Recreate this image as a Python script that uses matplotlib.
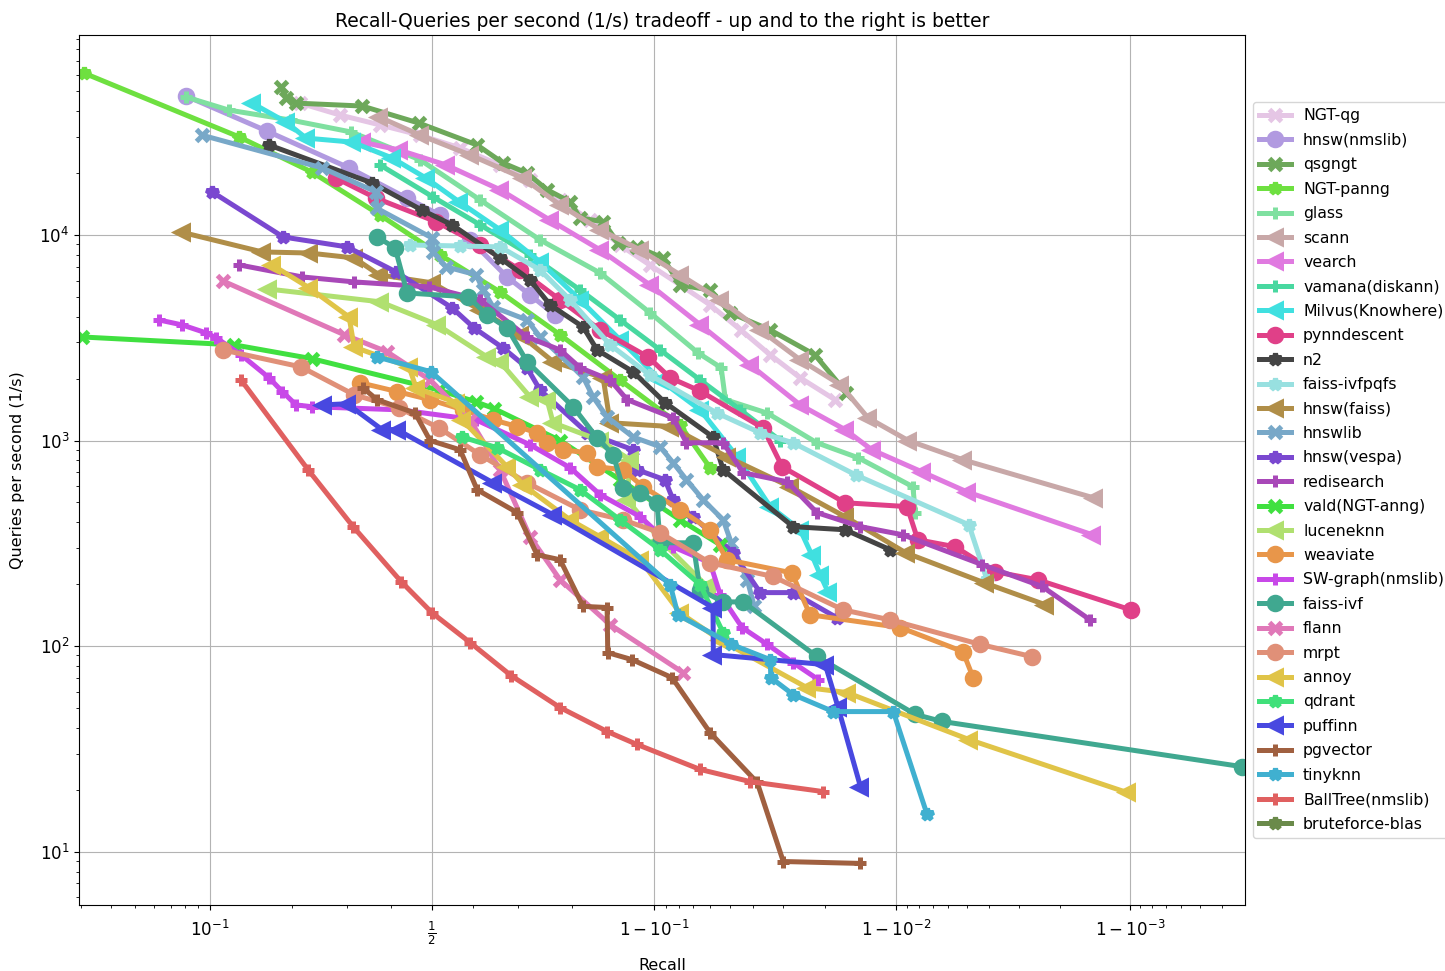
import matplotlib
matplotlib.use("Agg")
import matplotlib.pyplot as plt

# recall / queries-per-second, one pair of lists per algorithm
ngt_qg_recall = [0.213, 0.287, 0.374, 0.470, 0.569, 0.662, 0.725, 0.780, 0.827, 0.865, 0.896, 0.921, 0.940, 0.955, 0.966, 0.9745, 0.9818]
ngt_qg_qps = [43800, 38300, 34300, 30600, 26500, 21900, 18500, 14800, 11800, 8940, 7150, 5710, 4570, 3450, 2610, 2020, 1580]

hnsw_nmslib_recall = [0.0805, 0.1634, 0.3054, 0.4384, 0.5198, 0.593, 0.6775, 0.725, 0.7715]
hnsw_nmslib_qps = [47400, 32000, 21200, 15100, 12500, 9460, 6250, 5110, 4080]

qsgngt_recall = [0.1832, 0.1906, 0.2065, 0.3334, 0.4678, 0.6096, 0.6687, 0.719, 0.7573, 0.7968, 0.8123,
                 0.8446, 0.8630, 0.8838, 0.9077, 0.9209, 0.940, 0.9503, 0.966, 0.9779, 0.9837]
qsgngt_qps = [52400, 46400, 43800, 42400, 35000, 27400, 22400, 20000, 16600, 14500, 12100,
              11600, 9150, 8750, 7730, 5710, 5400, 4180, 3450, 2610, 1710]

ngt_panng_recall = [0.0309, 0.1289, 0.2336, 0.374, 0.5198, 0.6622, 0.7802, 0.8654, 0.9209, 0.940]
ngt_panng_qps = [61300, 30000, 20200, 12500, 8000, 5280, 3270, 1970, 1190, 737]

glass_recall = [0.0805, 0.118, 0.1984, 0.3096, 0.4703, 0.6166, 0.7444, 0.8407, 0.8964, 0.9329, 0.9459,
                0.948, 0.965, 0.9783, 0.9855, 0.9915, 0.9917]
glass_qps = [46900, 40500, 36200, 31700, 23200, 14800, 9460, 6530, 4180, 2670, 2260,
             1580, 1360, 975, 824, 596, 446]

scann_recall = [0.3717, 0.4703, 0.593, 0.711, 0.7802, 0.8407, 0.8869, 0.9209, 0.9454, 0.9626, 0.9745,
                0.9827, 0.9868, 0.9911, 0.9948, 0.99857]
scann_qps = [37500, 30600, 24500, 18900, 14000, 10600, 8460, 6400, 4830, 3450, 2470,
             1870, 1290, 1000, 806, 526]

vearch_recall = [0.3334, 0.419, 0.5346, 0.6622, 0.7628, 0.8407, 0.8964, 0.9342, 0.9589, 0.9745, 0.9835,
                 0.9873, 0.9922, 0.995, 0.99855]
vearch_qps = [28300, 25900, 21900, 16600, 11800, 8460, 5710, 3660, 2330, 1490, 1130,
              901, 705, 563, 348]

vamana_recall = [0.374, 0.5025, 0.6166, 0.7251, 0.8123, 0.8654, 0.9052, 0.9342, 0.9548, 0.9691]
vamana_qps = [21900, 15300, 11200, 8000, 5400, 3860, 2760, 1970, 1410, 1000]

milvus_recall = [0.1441, 0.1906, 0.2232, 0.3118, 0.4022, 0.4852, 0.5665, 0.6622, 0.7444, 0.8123, 0.8654,
                 0.9052, 0.9342, 0.9535, 0.966, 0.9745, 0.9772, 0.979, 0.9805]
milvus_qps = [43800, 35400, 29600, 28300, 23700, 18900, 14500, 10600, 7400, 4830, 3090,
              1970, 1410, 833, 477, 368, 278, 222, 184]

pynndescent_recall = [0.2787, 0.3649, 0.5099, 0.6166, 0.705, 0.7802, 0.8407, 0.8946, 0.9134, 0.9342,
                      0.9636, 0.9697, 0.9835, 0.991, 0.9919, 0.9944, 0.9962, 0.99752, 0.99901]
pynndescent_qps = [18900, 15100, 11600, 8940, 6760, 4830, 3450, 2550, 2020, 1740,
                   1150, 745, 498, 477, 329, 304, 230, 210, 150]

n2_recall = [0.166, 0.3558, 0.4752, 0.5493, 0.6622, 0.7251, 0.7628, 0.8167, 0.8366, 0.8797, 0.9093,
             0.9416, 0.9469, 0.9727, 0.9835, 0.9894]
n2_qps = [27400, 17900, 13200, 11200, 7730, 6040, 4570, 3570, 2760, 2160, 1530,
          1040, 721, 381, 368, 294]

ivfpqfs_recall = [0.4457, 0.5689, 0.6622, 0.7444, 0.7968, 0.8535, 0.8964, 0.9438, 0.9626, 0.9727,
                  0.9851, 0.9951, 0.9959]
ivfpqfs_qps = [8940, 8840, 8750, 6760, 4830, 2920, 2080, 1360, 1090, 975, 681, 389, 210]

hnsw_faiss_recall = [0.0777, 0.1567, 0.2282, 0.3161, 0.3717, 0.5, 0.6166, 0.705, 0.7681, 0.8446, 0.8535,
                     0.9134, 0.9488, 0.9719, 0.9835, 0.9909, 0.9958, 0.99769]
hnsw_faiss_qps = [10300, 8270, 8170, 7730, 6400, 5850, 4320, 3270, 2420, 2020, 1220,
                  1170, 833, 596, 426, 284, 203, 159]

hnswlib_recall = [0.0929, 0.2518, 0.3649, 0.366, 0.5, 0.502, 0.5346, 0.6072, 0.6236, 0.6464, 0.719,
                  0.7444, 0.8167, 0.8311, 0.8497, 0.8797, 0.9052, 0.9157, 0.9254, 0.936, 0.9469,
                  0.9508, 0.9577, 0.9604]
hnswlib_qps = [30600, 21200, 16200, 13500, 9670, 8270, 7000, 6400, 5400, 4470, 3860,
               3190, 2040, 1630, 1300, 1040, 933, 780, 644, 515, 411,
               318, 210, 156]

vespa_recall = [0.1018, 0.1862, 0.3012, 0.4118, 0.5493, 0.6025, 0.6687, 0.719, 0.7444, 0.8228, 0.8797,
                0.8838, 0.9093, 0.9157, 0.9297, 0.9517, 0.9626, 0.9727, 0.9822]
vespa_qps = [16200, 9780, 8750, 6610, 4420, 3530, 2820, 2260, 1760, 1090, 901,
             721, 644, 515, 426, 284, 182, 182, 137]

redisearch_recall = [0.1289, 0.2164, 0.3161, 0.4926, 0.6166, 0.719, 0.7802, 0.8123, 0.8535, 0.8733, 0.9157,
                     0.9254, 0.9469, 0.956, 0.9711, 0.9783, 0.9858, 0.9906, 0.9957, 0.99762, 0.99852]
redisearch_qps = [7150, 6250, 5910, 5590, 4830, 3190, 2760, 2260, 1970, 1580, 1290,
                  975, 975, 697, 630, 446, 381, 348, 249, 195, 134]

vald_recall = [0.0303, 0.1236, 0.2336, 0.5173, 0.6072, 0.6487, 0.7802, 0.8654, 0.9209, 0.9454]
vald_qps = [3190, 2920, 2500, 1760, 1540, 1430, 1000, 644, 411, 311]

lucene_recall = [0.1645, 0.374, 0.5124, 0.6328, 0.6622, 0.7251, 0.7573, 0.7681, 0.8407, 0.8765, 0.8733,
                 0.9052, 0.9383]
lucene_qps = [5460, 4730, 3660, 2550, 2410, 1630, 1580, 1220, 1000, 806, 515, 329, 195]

weaviate_recall = [0.329, 0.4142, 0.495, 0.5763, 0.6464, 0.699, 0.7386, 0.7573, 0.7852, 0.8228, 0.8366,
                   0.8688, 0.8898, 0.9209, 0.940, 0.9488, 0.9724, 0.9768, 0.9904, 0.9948, 0.9953]
weaviate_qps = [1910, 1730, 1580, 1410, 1260, 1170, 1090, 975, 901, 871, 745,
                721, 596, 460, 368, 263, 227, 142, 123, 94, 70.3]

swgraph_recall = [0.0628, 0.0777, 0.0964, 0.1055, 0.1311, 0.166, 0.1849, 0.2065, 0.2336, 0.4214, 0.6072,
                  0.7251, 0.7968, 0.8407, 0.8869, 0.9157, 0.940, 0.9454, 0.9556, 0.965, 0.9727, 0.9786]
swgraph_qps = [3860, 3650, 3340, 3160, 2610, 2020, 1730, 1490, 1460, 1410, 1260,
               953, 737, 545, 426, 304, 254, 178, 123, 102, 83.1, 68.7]

faiss_ivf_recall = [0.3671, 0.4094, 0.4384, 0.5882, 0.6328, 0.6775, 0.719, 0.8015, 0.8366, 0.8571, 0.8688,
                    0.8869, 0.9026, 0.9052, 0.9297, 0.9342, 0.9469, 0.956, 0.9783, 0.9917, 0.9936, 0.99967]
faiss_ivf_qps = [9780, 8650, 5220, 5000, 4080, 3530, 2420, 1460, 1030, 852, 589,
                 557, 498, 318, 318, 188, 164, 164, 89, 46.5, 43.0, 25.9]

flann_recall = [0.1117, 0.2955, 0.3904, 0.495, 0.593, 0.6622, 0.7251, 0.7802, 0.8535, 0.923]
flann_qps = [5980, 3270, 2700, 1970, 1260, 721, 340, 210, 127, 74.3]

mrpt_recall = [0.1117, 0.2147, 0.3161, 0.419, 0.5173, 0.6166, 0.719, 0.8123, 0.8688, 0.9052, 0.940,
               0.9669, 0.9832, 0.9894, 0.9956, 0.99737]
mrpt_qps = [2760, 2280, 1670, 1440, 1150, 852, 623, 460, 411, 356, 254,
            218, 150, 134, 102, 88.8]

annoy_recall = [0.1702, 0.2282, 0.3054, 0.3161, 0.4433, 0.4605, 0.5592, 0.5737, 0.6775, 0.711, 0.7968,
                0.8407, 0.8869, 0.9209, 0.9454, 0.9761, 0.9838, 0.9951, 0.99897]
annoy_qps = [7150, 5540, 3990, 2850, 2280, 1800, 1530, 1260, 745, 609, 411,
             340, 263, 145, 107, 62.8, 59.4, 35.1, 19.4]

qdrant_recall = [0.5737, 0.6558, 0.7444, 0.8123, 0.8654, 0.9052, 0.9342, 0.9469]
qdrant_qps = [1040, 922, 721, 576, 411, 294, 199, 116]

puffinn_recall = [0.2536, 0.3012, 0.3786, 0.4142, 0.6464, 0.7681, 0.9416, 0.9418, 0.980, 0.9823, 0.9858]
puffinn_qps = [1490, 1510, 1130, 1130, 623, 435, 154, 90.9, 81.2, 50.8, 20.7]

pgvector_recall = [0.3356, 0.3671, 0.458, 0.495, 0.5689, 0.6096, 0.699, 0.7386, 0.7802, 0.8167, 0.8497,
                   0.8505, 0.8786, 0.9149, 0.940, 0.9615, 0.970, 0.9858]
pgvector_qps = [1800, 1580, 1360, 1000, 901, 576, 446, 278, 263, 156, 154,
                92.9, 85.9, 70.2, 37.9, 21.7, 8.95, 8.76]

tinyknn_recall = [0.3671, 0.4975, 0.9134, 0.9194, 0.9508, 0.966, 0.9662, 0.9727, 0.9815, 0.9897, 0.9926]
tinyknn_qps = [2550, 2160, 199, 142, 102, 85.9, 70.2, 58.1, 48.0, 48.0, 15.2]

balltree_recall = [0.1311, 0.2265, 0.3139, 0.4238, 0.5, 0.593, 0.6862, 0.7802, 0.8497, 0.8838, 0.9342,
                   0.9589, 0.9795]
balltree_qps = [1970, 721, 381, 206, 145, 104, 71.8, 50.2, 38.4, 33.2, 25.1, 21.9, 19.6]

# bruteforce-blas has no visible points in the chart, only a legend entry
bruteforce_recall = []
bruteforce_qps = []

algos = [
    ("NGT-qg", ngt_qg_recall, ngt_qg_qps),
    ("hnsw(nmslib)", hnsw_nmslib_recall, hnsw_nmslib_qps),
    ("qsgngt", qsgngt_recall, qsgngt_qps),
    ("NGT-panng", ngt_panng_recall, ngt_panng_qps),
    ("glass", glass_recall, glass_qps),
    ("scann", scann_recall, scann_qps),
    ("vearch", vearch_recall, vearch_qps),
    ("vamana(diskann)", vamana_recall, vamana_qps),
    ("Milvus(Knowhere)", milvus_recall, milvus_qps),
    ("pynndescent", pynndescent_recall, pynndescent_qps),
    ("n2", n2_recall, n2_qps),
    ("faiss-ivfpqfs", ivfpqfs_recall, ivfpqfs_qps),
    ("hnsw(faiss)", hnsw_faiss_recall, hnsw_faiss_qps),
    ("hnswlib", hnswlib_recall, hnswlib_qps),
    ("hnsw(vespa)", vespa_recall, vespa_qps),
    ("redisearch", redisearch_recall, redisearch_qps),
    ("vald(NGT-anng)", vald_recall, vald_qps),
    ("luceneknn", lucene_recall, lucene_qps),
    ("weaviate", weaviate_recall, weaviate_qps),
    ("SW-graph(nmslib)", swgraph_recall, swgraph_qps),
    ("faiss-ivf", faiss_ivf_recall, faiss_ivf_qps),
    ("flann", flann_recall, flann_qps),
    ("mrpt", mrpt_recall, mrpt_qps),
    ("annoy", annoy_recall, annoy_qps),
    ("qdrant", qdrant_recall, qdrant_qps),
    ("puffinn", puffinn_recall, puffinn_qps),
    ("pgvector", pgvector_recall, pgvector_qps),
    ("tinyknn", tinyknn_recall, tinyknn_qps),
    ("BallTree(nmslib)", balltree_recall, balltree_qps),
    ("bruteforce-blas", bruteforce_recall, bruteforce_qps),
]

styles = {
    "NGT-qg": ("#e5c6e5", "x"),
    "hnsw(nmslib)": ("#b19ae0", "o"),
    "qsgngt": ("#6da85a", "x"),
    "NGT-panng": ("#6ee040", "*"),
    "glass": ("#7fe0a0", "+"),
    "scann": ("#c8a8a8", "<"),
    "vearch": ("#e07ae0", "<"),
    "vamana(diskann)": ("#48d8a0", "+"),
    "Milvus(Knowhere)": ("#40e0e0", "<"),
    "pynndescent": ("#e04088", "o"),
    "n2": ("#444444", "*"),
    "faiss-ivfpqfs": ("#98e0e0", "*"),
    "hnsw(faiss)": ("#b08e48", "<"),
    "hnswlib": ("#78a8c8", "x"),
    "hnsw(vespa)": ("#7a48d0", "*"),
    "redisearch": ("#a848b8", "+"),
    "vald(NGT-anng)": ("#40e040", "x"),
    "luceneknn": ("#b0e070", "<"),
    "weaviate": ("#e8964a", "o"),
    "SW-graph(nmslib)": ("#c848e8", "+"),
    "faiss-ivf": ("#40a890", "o"),
    "flann": ("#e078b8", "x"),
    "mrpt": ("#e09078", "o"),
    "annoy": ("#e0c448", "<"),
    "qdrant": ("#40e07a", "*"),
    "puffinn": ("#4848e0", "<"),
    "pgvector": ("#a06040", "+"),
    "tinyknn": ("#40b0d0", "*"),
    "BallTree(nmslib)": ("#e06060", "+"),
    "bruteforce-blas": ("#6a8a4a", "*"),
}

fig = plt.figure(figsize=(14.45, 9.71), dpi=100)
ax = fig.add_axes([0.0547, 0.068, 0.8069, 0.896])

handles = []
labels = []
for name, rec, qps in algos:
    color, marker = styles[name]
    h, = ax.plot(rec, qps, "-", color=color, marker=marker, ms=9, mew=3.6, lw=3.6, label=name)
    handles.append(h)
    labels.append(name)

ax.set_xscale("logit")
ax.set_yscale("log")
ax.set_xlim(0.02945, 0.99968)
ax.set_ylim(5.5, 94000)
ax.grid(True, which="major", color="0.7", linestyle="-")
ax.tick_params(labelsize=12)
ax.tick_params(axis="x", pad=7)

ax.set_title("Recall-Queries per second (1/s) tradeoff - up and to the right is better", fontsize=13.5)
ax.set_xlabel("Recall", fontsize=11.5, labelpad=8)
ax.set_ylabel("Queries per second (1/s)", fontsize=11.5, labelpad=10)

ax.legend(handles, labels, loc="center left", bbox_to_anchor=(1, 0.5), fontsize=11.3,
          labelspacing=0.6)

plt.savefig("out.png", dpi=100)
